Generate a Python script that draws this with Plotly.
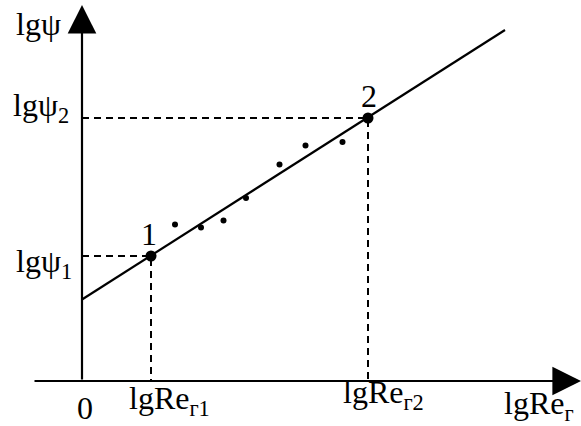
import plotly.graph_objects as go

# data (arbitrary lg units; origin at axes intersection)
scatter_x = [1.86, 2.38, 2.83, 3.28, 3.95, 4.47, 5.21]
scatter_y = [3.13, 3.07, 3.21, 3.66, 4.33, 4.71, 4.78]
line_x = [0.0, 8.46]
line_y = [1.63, 7.02]
key_x = [1.38, 5.72]
key_y = [2.50, 5.26]
key_labels = ["1", "2"]
x_axis_range = [-0.98, 9.98]
y_axis_range = [0.0, 7.52]

FONT = dict(family="Liberation Serif", size=32, color="black")

fig = go.Figure()

# dashed guide lines
for kx, ky in zip(key_x, key_y):
    fig.add_trace(go.Scatter(x=[0, kx, kx], y=[ky, ky, 0], mode="lines",
                             line=dict(color="black", width=2, dash="7px,5px"),
                             hoverinfo="skip", showlegend=False))

# fitted line
fig.add_trace(go.Scatter(x=line_x, y=line_y, mode="lines",
                         line=dict(color="black", width=2.2),
                         hoverinfo="skip", showlegend=False))

# scatter points
fig.add_trace(go.Scatter(x=scatter_x, y=scatter_y, mode="markers",
                         marker=dict(color="black", size=6),
                         hoverinfo="skip", showlegend=False))

# key points
fig.add_trace(go.Scatter(x=key_x, y=key_y, mode="markers",
                         marker=dict(color="black", size=11),
                         hoverinfo="skip", showlegend=False))

# axes with arrows
fig.add_annotation(x=x_axis_range[1], y=0, ax=x_axis_range[0], ay=0,
                   xref="x", yref="y", axref="x", ayref="y", text="",
                   showarrow=True, arrowhead=2, arrowsize=2.6, arrowwidth=2.2, arrowcolor="black")
fig.add_annotation(x=0, y=y_axis_range[1], ax=0, ay=y_axis_range[0],
                   xref="x", yref="y", axref="x", ayref="y", text="",
                   showarrow=True, arrowhead=2, arrowsize=2.6, arrowwidth=2.2, arrowcolor="black")

labels = [
    ("lgψ", -1.36, 7.14, "left"),
    ("lgψ<sub>2</sub>", -1.42, 5.47, "left"),
    ("lgψ<sub>1</sub>", -1.36, 2.35, "left"),
    ("0", 0.06, -0.54, "center"),
    ("lgRe<sub>г1</sub>", 0.90, -0.39, "left"),
    ("lgRe<sub>г2</sub>", 5.18, -0.27, "left"),
    ("lgRe<sub>г</sub>", 8.40, -0.49, "left"),
]
for t, x, y, xa in labels:
    fig.add_annotation(x=x, y=y, text=t, showarrow=False, xanchor=xa, yanchor="middle",
                       font=FONT, xref="x", yref="y")

for t, x, y in zip(key_labels, [1.34, 5.74], [2.95, 5.71]):
    fig.add_annotation(x=x, y=y, text=t, showarrow=False, xanchor="center", yanchor="middle",
                       font=FONT, xref="x", yref="y")

fig.update_layout(
    width=581, height=426,
    margin=dict(l=0, r=0, t=0, b=0),
    paper_bgcolor="white", plot_bgcolor="white",
    xaxis=dict(range=[-1.64, 9.98], visible=False, fixedrange=True),
    yaxis=dict(range=[-0.9, 7.62], visible=False, fixedrange=True),
)

fig.write_html("out.html")
